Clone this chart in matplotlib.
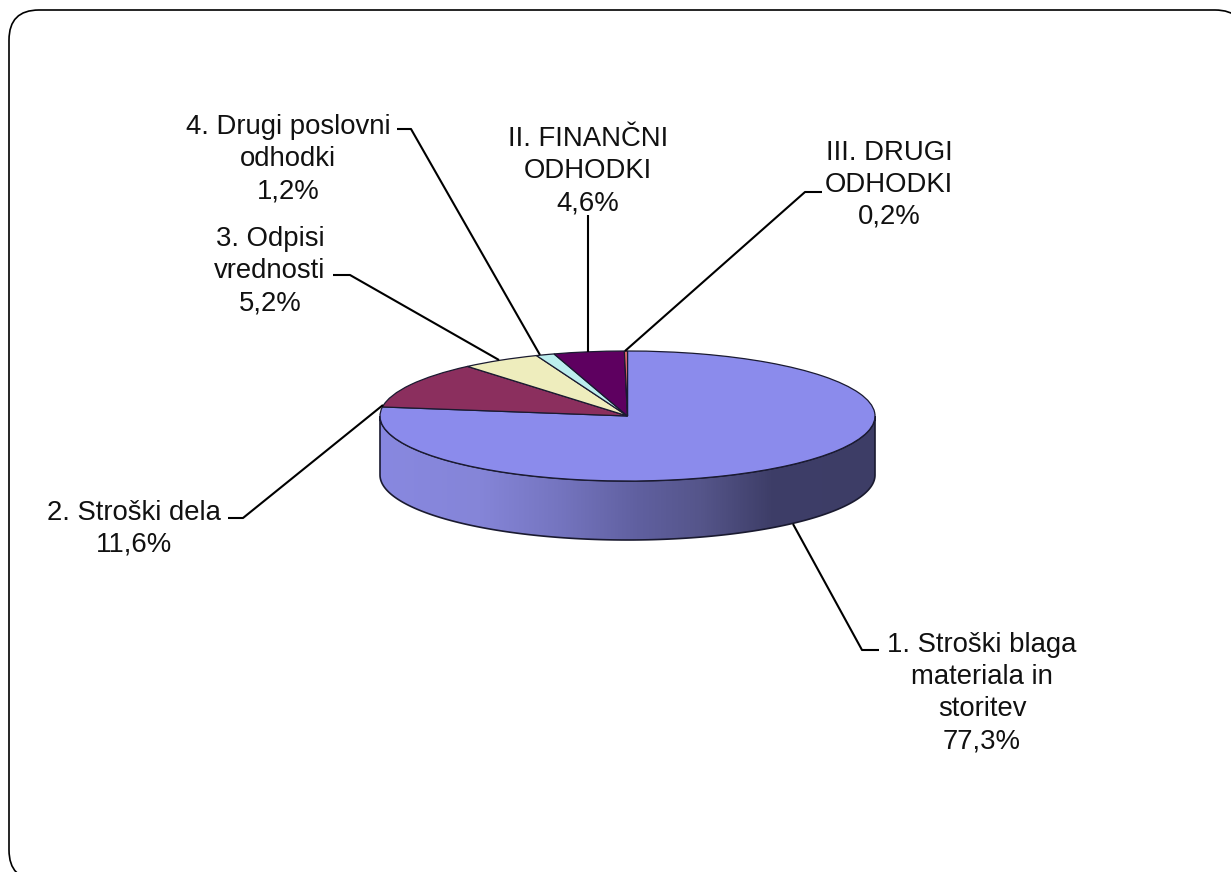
import numpy as np
import matplotlib
matplotlib.use('Agg')
import matplotlib.pyplot as plt
from matplotlib.colors import LinearSegmentedColormap
from matplotlib.patches import FancyBboxPatch, PathPatch
from matplotlib.path import Path

plt.rcParams['font.family'] = ['Liberation Sans', 'DejaVu Sans']

W, H = 1231, 872

# values, clockwise from the top of the pie
names = ['1. Stroški blaga\nmateriala in\nstoritev', '2. Stroški dela', '3. Odpisi\nvrednosti',
         '4. Drugi poslovni\nodhodki', 'II. FINANČNI\nODHODKI', 'III. DRUGI\nODHODKI']
values = [77.3, 11.6, 5.2, 1.2, 4.6, 0.2]
colors = ['#8B8BEC', '#8B2F5E', '#EEEDBD', '#BCEEEE', '#5E0060', '#F07070']

# label centres and leader lines, in pixels
label_pos = [(982, 693), (134, 528.5), (270, 271), (288, 159.5), (588, 171.5), (889, 184.5)]
leaders = [[(793, 524), (862, 650), (879, 650)],
           [(228, 518), (243, 518), (383, 405)],
           [(333, 275), (350, 275), (499, 360)],
           [(397, 129), (411, 129), (540, 355)],
           [(588, 215), (588, 352)],
           [(822, 192), (805, 192), (625, 351)]]

# ellipse of the pie top
cx, cy, rx, ry = 627.5, 416, 247.5, 65
depth = 59

fig = plt.figure(figsize=(W / 100, H / 100), dpi=100)
fig.patch.set_facecolor('white')

# background: frame and side wall
bg = fig.add_axes([0, 0, 1, 1], zorder=0)
bg.set_xlim(0, W)
bg.set_ylim(H, 0)
bg.axis('off')
bg.add_patch(FancyBboxPatch((39, 40), 1176, 810, boxstyle='round,pad=30,rounding_size=30',
                            fc='white', ec='black', lw=1.2))

t = np.linspace(0, np.pi, 200)
top_x = cx + rx * np.cos(t)
top_y = cy + ry * np.sin(t)
wall = np.vstack([np.column_stack([top_x, top_y]),
                  np.column_stack([top_x[::-1], top_y[::-1] + depth])])
wall_patch = PathPatch(Path(np.vstack([wall, wall[:1]]), closed=True), fc='none', ec='#1a1a30', lw=1.2)
bg.add_patch(wall_patch)

stops = [(0.0, '#8888E0'), (0.2, '#8585D8'), (0.36, '#7575C0'), (0.52, '#6060A0'),
         (0.65, '#55558A'), (0.79, '#3E3E68'), (1.0, '#3D3D66')]
cmap = LinearSegmentedColormap.from_list('wall', stops)
im = bg.imshow(np.linspace(0, 1, 256).reshape(1, -1), cmap=cmap, aspect='auto',
               extent=[cx - rx, cx + rx, cy + ry + depth, cy], zorder=1)
im.set_clip_path(wall_patch)
wall_patch.set_zorder(2)
bg.set_xlim(0, W)
bg.set_ylim(H, 0)

# pie top, squashed by using a flat axes
pie_ax = fig.add_axes([(cx - rx) / W, 1 - (cy + ry) / H, 2 * rx / W, 2 * ry / H], zorder=1)
pie_ax.pie(values, colors=colors, startangle=90, counterclock=False,
           wedgeprops={'edgecolor': '#1a1a30', 'linewidth': 0.9, 'clip_on': False})
pie_ax.set_aspect('auto')
pie_ax.set_xlim(-1, 1)
pie_ax.set_ylim(-1, 1)

# labels and leader lines
top = fig.add_axes([0, 0, 1, 1], zorder=2)
top.set_xlim(0, W)
top.set_ylim(H, 0)
top.axis('off')
for line in leaders:
    xs, ys = zip(*line)
    top.plot(xs, ys, color='black', lw=1.5, solid_capstyle='butt')
for name, val, (x, y) in zip(names, values, label_pos):
    label = name + '\n' + f'{val:.1f}%'.replace('.', ',')
    top.text(x, y, label, ha='center', va='center', fontsize=19.8, linespacing=1.3, color='#111111')

fig.savefig('out.png', dpi=100)
